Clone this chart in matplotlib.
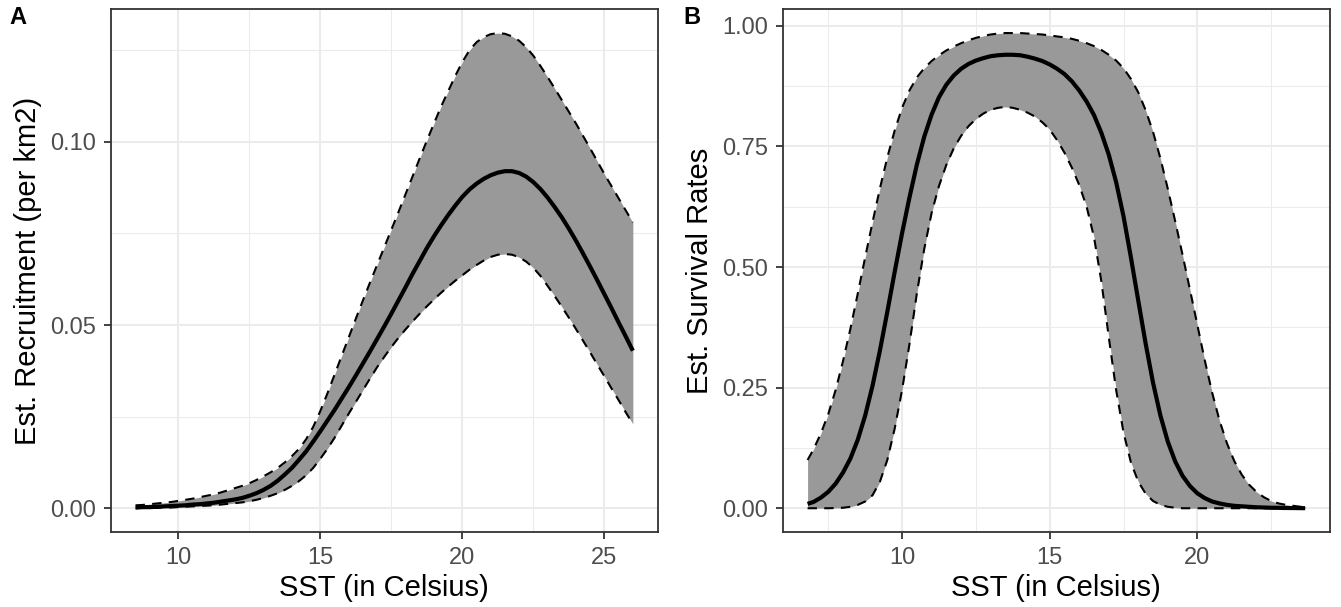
import matplotlib
matplotlib.use("Agg")
import matplotlib.pyplot as plt
from matplotlib.ticker import FixedLocator

plt.rcParams['font.family'] = ['Liberation Sans', 'DejaVu Sans']

# ---------------- Panel A data: recruitment vs SST ----------------
sst_a = [8.5, 8.75, 9.0, 9.25, 9.5, 9.75, 10.0, 10.25, 10.5, 10.75, 11.0, 11.25,
         11.5, 11.75, 12.0, 12.25, 12.5, 12.75, 13.0, 13.25, 13.5, 13.75, 14.0,
         14.25, 14.5, 14.75, 15.0, 15.25, 15.5, 15.75, 16.0, 16.25, 16.5, 16.75,
         17.0, 17.25, 17.5, 17.75, 18.0, 18.25, 18.5, 18.75, 19.0, 19.25, 19.5,
         19.75, 20.0, 20.25, 20.5, 20.75, 21.0, 21.25, 21.5, 21.75, 22.0, 22.25,
         22.5, 22.75, 23.0, 23.25, 23.5, 23.75, 24.0, 24.25, 24.5, 24.75, 25.0,
         25.25, 25.5, 25.75, 26.0]
rec_mean = [0.0002, 0.0003, 0.0003, 0.0004, 0.0005, 0.0006, 0.0007, 0.0008,
            0.0010, 0.0011, 0.0013, 0.0015, 0.0018, 0.0021, 0.0024, 0.0028,
            0.0034, 0.0041, 0.0050, 0.0061, 0.0075, 0.0092, 0.0110, 0.0132,
            0.0155, 0.0182, 0.0210, 0.0239, 0.0268, 0.0299, 0.0330, 0.0362,
            0.0395, 0.0428, 0.0462, 0.0496, 0.0531, 0.0567, 0.0603, 0.0640,
            0.0675, 0.0710, 0.0742, 0.0772, 0.0800, 0.0826, 0.0850, 0.0870,
            0.0886, 0.0899, 0.0909, 0.0916, 0.0920, 0.0920, 0.0915, 0.0905,
            0.0890, 0.0871, 0.0848, 0.0822, 0.0794, 0.0763, 0.0730, 0.0695,
            0.0659, 0.0622, 0.0584, 0.0546, 0.0507, 0.0469, 0.0430]
rec_upper = [0.0008, 0.0009, 0.0011, 0.0013, 0.0015, 0.0017, 0.0020, 0.0023,
             0.0026, 0.0030, 0.0034, 0.0038, 0.0043, 0.0049, 0.0055, 0.0061,
             0.0068, 0.0077, 0.0087, 0.0098, 0.0110, 0.0125, 0.0142, 0.0162,
             0.0188, 0.0222, 0.0265, 0.0313, 0.0364, 0.0415, 0.0466, 0.0517,
             0.0567, 0.0616, 0.0664, 0.0712, 0.0760, 0.0808, 0.0857, 0.0906,
             0.0955, 0.1003, 0.1050, 0.1096, 0.1138, 0.1180, 0.1218, 0.1250,
             0.1272, 0.1286, 0.1294, 0.1297, 0.1295, 0.1288, 0.1276, 0.1258,
             0.1235, 0.1207, 0.1177, 0.1146, 0.1114, 0.1082, 0.1050, 0.1016,
             0.0982, 0.0947, 0.0912, 0.0879, 0.0846, 0.0813, 0.0780]
rec_lower = [0.0000, 0.0001, 0.0001, 0.0001, 0.0002, 0.0002, 0.0003, 0.0004,
             0.0005, 0.0006, 0.0007, 0.0008, 0.0010, 0.0012, 0.0014, 0.0016,
             0.0019, 0.0023, 0.0028, 0.0034, 0.0041, 0.0050, 0.0061, 0.0074,
             0.0090, 0.0110, 0.0135, 0.0162, 0.0192, 0.0225, 0.0258, 0.0290,
             0.0322, 0.0354, 0.0385, 0.0413, 0.0440, 0.0465, 0.0488, 0.0510,
             0.0531, 0.0551, 0.0570, 0.0588, 0.0605, 0.0621, 0.0636, 0.0651,
             0.0664, 0.0676, 0.0686, 0.0692, 0.0694, 0.0692, 0.0685, 0.0673,
             0.0656, 0.0634, 0.0607, 0.0579, 0.0550, 0.0520, 0.0489, 0.0457,
             0.0425, 0.0392, 0.0360, 0.0327, 0.0295, 0.0262, 0.0230]

# ---------------- Panel B data: survival vs SST ----------------
sst_b = [6.8, 7.0, 7.25, 7.5, 7.75, 8.0, 8.25, 8.5, 8.75, 9.0, 9.25, 9.5, 9.75,
         10.0, 10.25, 10.5, 10.75, 11.0, 11.25, 11.5, 11.75, 12.0, 12.25, 12.5,
         12.75, 13.0, 13.25, 13.5, 13.75, 14.0, 14.25, 14.5, 14.75, 15.0, 15.25,
         15.5, 15.75, 16.0, 16.25, 16.5, 16.75, 17.0, 17.25, 17.5, 17.75, 18.0,
         18.25, 18.5, 18.75, 19.0, 19.25, 19.5, 19.75, 20.0, 20.25, 20.5, 20.75,
         21.0, 21.25, 21.5, 21.75, 22.0, 22.25, 22.5, 22.75, 23.0, 23.25, 23.5,
         23.65]
surv_mean = [0.009, 0.013, 0.022, 0.034, 0.051, 0.074, 0.103, 0.142, 0.192,
             0.254, 0.327, 0.407, 0.490, 0.570, 0.644, 0.712, 0.770, 0.816,
             0.852, 0.878, 0.897, 0.911, 0.921, 0.928, 0.933, 0.937, 0.939,
             0.940, 0.940, 0.939, 0.936, 0.932, 0.927, 0.920, 0.911, 0.900,
             0.885, 0.866, 0.843, 0.815, 0.778, 0.733, 0.676, 0.605, 0.520,
             0.430, 0.341, 0.260, 0.192, 0.138, 0.097, 0.067, 0.046, 0.031,
             0.021, 0.014, 0.010, 0.007, 0.005, 0.004, 0.003, 0.002, 0.0015,
             0.001, 0.0008, 0.0005, 0.0004, 0.0002, 0.0001]
surv_upper = [0.100, 0.122, 0.155, 0.195, 0.245, 0.305, 0.372, 0.445, 0.520,
              0.593, 0.663, 0.727, 0.783, 0.830, 0.866, 0.893, 0.912, 0.927,
              0.939, 0.949, 0.957, 0.964, 0.970, 0.975, 0.979, 0.982, 0.984,
              0.985, 0.985, 0.985, 0.984, 0.983, 0.982, 0.980, 0.978, 0.976,
              0.973, 0.969, 0.964, 0.958, 0.950, 0.940, 0.928, 0.912, 0.890,
              0.862, 0.825, 0.780, 0.725, 0.662, 0.595, 0.525, 0.453, 0.380,
              0.307, 0.240, 0.182, 0.135, 0.098, 0.070, 0.049, 0.034, 0.023,
              0.015, 0.010, 0.007, 0.005, 0.003, 0.002]
surv_lower = [0.000, 0.000, 0.000, 0.000, 0.0005, 0.001, 0.003, 0.007, 0.014,
              0.027, 0.055, 0.100, 0.165, 0.245, 0.340, 0.445, 0.537, 0.612,
              0.668, 0.712, 0.746, 0.772, 0.792, 0.807, 0.818, 0.826, 0.830,
              0.832, 0.830, 0.826, 0.820, 0.812, 0.800, 0.785, 0.763, 0.737,
              0.706, 0.670, 0.625, 0.562, 0.470, 0.355, 0.245, 0.157, 0.095,
              0.055, 0.030, 0.015, 0.007, 0.003, 0.001, 0.000, 0.000, 0.000,
              0.000, 0.000, 0.000, 0.000, 0.000, 0.000, 0.000, 0.000, 0.000,
              0.000, 0.000, 0.000, 0.000, 0.000, 0.000]

xlabel = "SST (in Celsius)"
ylabel_a = "Est. Recruitment (per km2)"
ylabel_b = "Est. Survival Rates"
xticks_a = [10, 15, 20, 25]
xminor_a = [12.5, 17.5, 22.5]
yticks_a = [0.00, 0.05, 0.10]
yminor_a = [0.025, 0.075, 0.125]
xticks_b = [10, 15, 20]
xminor_b = [7.5, 12.5, 17.5, 22.5]
yticks_b = [0.00, 0.25, 0.50, 0.75, 1.00]
yminor_b = [0.125, 0.375, 0.625, 0.875]

W, H = 1341, 607
fig = plt.figure(figsize=(W / 100, H / 100), dpi=100)

GRID = '#EBEBEB'
FRAME = '#333333'
TICKLAB = '#4D4D4D'
FILL = '#999999'


def panel(rect, x, mean, lo, hi, xt, xm, yt, ym, ylab, yfmt):
    ax = fig.add_axes(rect)
    ax.fill_between(x, lo, hi, color=FILL, linewidth=0, zorder=2)
    ax.plot(x, hi, color='black', lw=1.5, ls=(0, (4.5, 3.5)), zorder=3)
    ax.plot(x, lo, color='black', lw=1.5, ls=(0, (4.5, 3.5)), zorder=3)
    ax.plot(x, mean, color='black', lw=3.0, solid_capstyle='butt',
            solid_joinstyle='round', zorder=4)
    xmin, xmax = min(x), max(x)
    dx = (xmax - xmin) * 0.05
    ax.set_xlim(xmin - dx, xmax + dx)
    ymax = max(hi)
    dy = ymax * 0.05
    ax.set_ylim(-dy, ymax + dy)
    ax.xaxis.set_major_locator(FixedLocator(xt))
    ax.xaxis.set_minor_locator(FixedLocator(xm))
    ax.yaxis.set_major_locator(FixedLocator(yt))
    ax.yaxis.set_minor_locator(FixedLocator(ym))
    ax.set_yticklabels([yfmt.format(v) for v in yt])
    ax.set_xticklabels([str(v) for v in xt])
    ax.grid(which='major', color=GRID, lw=1.5, zorder=0)
    ax.grid(which='minor', color=GRID, lw=0.75, zorder=0)
    ax.set_axisbelow(True)
    ax.tick_params(which='major', length=5, width=1.3, color=FRAME,
                   labelsize=17, labelcolor=TICKLAB, pad=5.5)
    ax.tick_params(which='minor', length=0)
    for s in ax.spines.values():
        s.set_color(FRAME)
        s.set_linewidth(1.3)
        s.set_zorder(5)
    ax.set_xlabel(xlabel, fontsize=21, color='black', labelpad=4)
    ax.set_ylabel(ylab, fontsize=21, color='black', labelpad=6)
    return ax


bottom = (H - 532) / H
height = (532 - 9.3) / H
axA = panel([110.7 / W, bottom, 547 / W, height], sst_a, rec_mean, rec_lower,
            rec_upper, xticks_a, xminor_a, yticks_a, yminor_a, ylabel_a, "{:.2f}")
axB = panel([782.7 / W, bottom, 547.3 / W, height], sst_b, surv_mean, surv_lower,
            surv_upper, xticks_b, xminor_b, yticks_b, yminor_b, ylabel_b, "{:.2f}")

fig.text(9 / W, 1 - 24 / H, "A", fontsize=17, fontweight='bold', ha='left',
         va='baseline')
fig.text(683 / W, 1 - 24 / H, "B", fontsize=17, fontweight='bold', ha='left',
         va='baseline')

fig.savefig("out.png", dpi=100)
